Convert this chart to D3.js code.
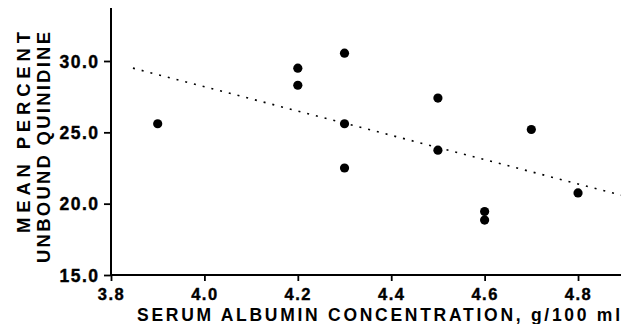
<!DOCTYPE html>
<html>
<head>
<meta charset="utf-8">
<script src="https://cdn.jsdelivr.net/npm/d3@7"></script>
<style>
  html, body { margin: 0; padding: 0; background: #fff; }
  svg { display: block; font-family: "Liberation Sans", Arial, Helvetica, sans-serif; }
</style>
</head>
<body>
<svg id="chart" width="621" height="324"></svg>
<script>
// ---- data ----
const albumin = [3.9, 4.2, 4.2, 4.3, 4.3, 4.3, 4.5, 4.5, 4.6, 4.6, 4.7, 4.8];
const unbound = [25.6, 29.5, 28.3, 30.55, 25.6, 22.5, 27.4, 23.75, 19.45, 18.85, 25.2, 20.75];
const fitX = [3.847, 4.892];
const fitY = [29.5, 20.6];
const xTicks = [3.8, 4.0, 4.2, 4.4, 4.6, 4.8];
const yTicks = [15.0, 20.0, 25.0, 30.0];
const xTitle = "SERUM ALBUMIN CONCENTRATION, g/100 ml";
const yTitleLines = ["MEAN PERCENT", "UNBOUND QUINIDINE"];

// ---- layout ----
const svg = d3.select("#chart");
const x = d3.scaleLinear().domain([3.8, 4.892]).range([111, 621]);
const y = d3.scaleLinear().domain([15, 30]).range([275, 61]);
const yTop = 8;

// axes lines
svg.append("line")
  .attr("x1", x(3.8)).attr("x2", 621)
  .attr("y1", y(15)).attr("y2", y(15))
  .attr("stroke", "#000").attr("stroke-width", 2);
svg.append("line")
  .attr("x1", x(3.8)).attr("x2", x(3.8))
  .attr("y1", yTop).attr("y2", y(15) + 1)
  .attr("stroke", "#000").attr("stroke-width", 2);

// ticks via d3 axes
const xAxis = d3.axisBottom(x).tickValues(xTicks).tickSize(6).tickFormat(d3.format(".1f"));
const gx = svg.append("g").attr("transform", `translate(0,${y(15)})`).call(xAxis);
gx.select(".domain").remove();
gx.selectAll(".tick line").attr("stroke", "#000").attr("stroke-width", 1.8);
gx.selectAll(".tick text")
  .attr("y", 25).attr("dy", 0)
  .attr("fill", "#000").attr("stroke", "#000").attr("stroke-width", 0.4)
  .style("font-size", "16.5px").style("font-weight", "bold")
  .style("letter-spacing", "1.5px")
  .style("font-family", "'Liberation Sans', Arial, sans-serif");

const yAxis = d3.axisLeft(y).tickValues(yTicks).tickSize(7).tickFormat(d3.format(".1f"));
const gy = svg.append("g").attr("transform", `translate(${x(3.8)},0)`).call(yAxis);
gy.select(".domain").remove();
gy.selectAll(".tick line").attr("stroke", "#000").attr("stroke-width", 1.8);
gy.selectAll(".tick text")
  .attr("x", -11.5).attr("dy", "0.36em")
  .attr("fill", "#000").attr("stroke", "#000").attr("stroke-width", 0.4)
  .style("font-size", "17.5px").style("font-weight", "bold")
  .style("letter-spacing", "1.5px")
  .style("font-family", "'Liberation Sans', Arial, sans-serif");

// regression dotted line
const line = d3.line().x(d => x(d[0])).y(d => y(d[1]));
svg.append("path")
  .datum(d3.zip(fitX, fitY))
  .attr("d", line)
  .attr("fill", "none")
  .attr("stroke", "#000")
  .attr("stroke-width", 1.6)
  .attr("stroke-dasharray", "2,7");

// points
svg.append("g").selectAll("circle")
  .data(d3.zip(albumin, unbound))
  .join("circle")
  .attr("cx", d => x(d[0]))
  .attr("cy", d => y(d[1]))
  .attr("r", 4.6)
  .attr("fill", "#000");

// x title
svg.append("text")
  .attr("x", 137).attr("y", 321)
  .attr("textLength", 483).attr("lengthAdjust", "spacing")
  .style("font-size", "17.5px").style("font-weight", "bold")
  .attr("fill", "#000")
  .text(xTitle);

// y title (two rotated lines, top-aligned)
const yTitleX = [30, 50];
const yTitleLen = [201, 231];
yTitleLines.forEach((t, i) => {
  svg.append("text")
    .attr("transform", `translate(${yTitleX[i]},${32}) rotate(-90)`)
    .attr("text-anchor", "end")
    .attr("textLength", yTitleLen[i]).attr("lengthAdjust", "spacing")
    .style("font-size", "18.5px").style("font-weight", "bold")
    .attr("fill", "#000")
    .text(t);
});
</script>
</body>
</html>
